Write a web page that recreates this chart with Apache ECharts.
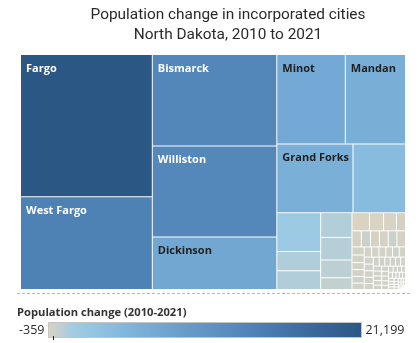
<!DOCTYPE html>
<html>
<head>
<meta charset="utf-8">
<script src="https://cdn.jsdelivr.net/npm/echarts@6/dist/echarts.min.js"></script>
<style>
  html, body { margin: 0; padding: 0; background: #fff; }
  #chart { width: 420px; height: 343px; }
</style>
</head>
<body>
<div id="chart"></div>
<script>
// Cities that carry a name label, with their population change 2010-2021
const labeledCities = ['Fargo', 'West Fargo', 'Bismarck', 'Williston', 'Dickinson', 'Minot', 'Mandan', 'Grand Forks'];
const labeledChange = [21199, 13800, 12860, 12810, 7390, 6920, 6080, 5920];
// Label ink per city: white on the darker tiles, near-black on the lighter ones
const labelTone = ['light', 'light', 'light', 'light', 'dark', 'dark', 'dark', 'dark'];

// Remaining incorporated cities (no label), population change 2010-2021
const otherChange = [
  4080, 1930, 945, 935, 876, 798, 627, 417,
  -359, -290, -265, -185,
  -170, 166, -163, -160, 158, -156,
  -112, -105, -97, -94, 92, -89, -85, -84, -80, -77, 76, -73, -72, -68,
  -66, -65, -61, -60, -57, -55, 54, -51, -50, -47, -46, -44, -43, -41,
  -40, -38, -37, -35, -33, -32, -30, -29, -27, -26, -24, -23, -22, -20,
  -19, -18, -17, -16, -15, -14, -13, -12, -11, -10, -9, -9, -8, -7,
  -6, -6, -5, -4, -4, -3, -3, -2, -2, -1, -1
];

// Sequential colour scale, evenly spaced stops from the minimum to the maximum change
const colorStops = [
  '#dbd3c1', '#a0cbe4', '#90c2e1', '#80b5dc', '#74aad4', '#6a9fcb', '#6095c4',
  '#588bbd', '#4d80b3', '#4475a8', '#3b6a9c', '#336190', '#2b5784'
];

const titleText = 'Population change in incorporated cities\nNorth Dakota, 2010 to 2021';
const legendTitle = 'Population change (2010-2021)';

const allChange = labeledChange.concat(otherChange);
const minChange = Math.min.apply(null, allChange);
const maxChange = Math.max.apply(null, allChange);
const fmt = v => v.toLocaleString('en-US');

const treeData = labeledCities.map((name, i) => ({
  name: name,
  value: [labeledChange[i], labeledChange[i]],
  label: { color: labelTone[i] === 'light' ? '#ffffff' : '#1f1f1f' }
})).concat(otherChange.map(v => ({
  name: '',
  value: [Math.abs(v), v],
  label: { show: false }
})));

// Colour bar geometry for the legend
const bar = { left: 48, top: 322, length: 314, thick: 16 };
const zeroX = bar.left + (0 - minChange) / (maxChange - minChange) * bar.length;

const chart = echarts.init(document.getElementById('chart'), null, { renderer: 'canvas' });
chart.setOption({
  animation: false,
  backgroundColor: '#ffffff',
  title: [{
    text: titleText,
    left: 223,
    top: 0,
    textAlign: 'center',
    textStyle: {
      fontFamily: 'Roboto',
      fontWeight: 'normal',
      fontSize: 15.4,
      lineHeight: 20,
      color: '#2a2a2a'
    }
  }, {
    text: legendTitle,
    left: 17,
    top: 307,
    padding: 0,
    textStyle: {
      fontFamily: 'Open Sans',
      fontWeight: 'bold',
      fontSize: 11.2,
      color: '#333333'
    }
  }],
  visualMap: {
    type: 'continuous',
    seriesIndex: [],
    orient: 'horizontal',
    min: minChange,
    max: maxChange,
    calculable: false,
    hoverLink: false,
    itemWidth: bar.thick,
    itemHeight: bar.length,
    left: 19,
    top: bar.top,
    padding: 0,
    text: [fmt(maxChange), fmt(minChange)],
    textGap: 3.5,
    textStyle: { fontFamily: 'Open Sans', fontSize: 12.5, color: '#2a2a2a' },
    inRange: { color: colorStops }
  },
  graphic: [{
    type: 'line',
    shape: { x1: 17, y1: 293.5, x2: 410, y2: 293.5 },
    style: { stroke: '#b4bccb', lineWidth: 1, lineDash: [3, 2] },
    silent: true
  }, {
    type: 'rect',
    shape: { x: bar.left + 0.5, y: bar.top + 0.5, width: bar.length - 1, height: bar.thick - 1 },
    style: { fill: 'none', stroke: '#c4c4c4', lineWidth: 1 },
    z: 100,
    silent: true
  }, {
    type: 'line',
    shape: { x1: Math.round(zeroX) + 0.5, y1: bar.top + bar.thick - 2, x2: Math.round(zeroX) + 0.5, y2: bar.top + bar.thick + 2 },
    style: { stroke: '#222222', lineWidth: 1 },
    z: 101,
    silent: true
  }],
  series: [{
    type: 'treemap',
    left: 21,
    top: 55,
    width: 384,
    height: 234,
    roam: false,
    nodeClick: false,
    silent: true,
    sort: 'desc',
    visibleMin: 0.5,
    breadcrumb: { show: false },
    upperLabel: { show: false },
    label: {
      show: true,
      position: 'insideTopLeft',
      formatter: '{b}',
      fontFamily: 'Open Sans',
      fontWeight: 'bold',
      fontSize: 11,
      padding: [8, 4, 0, 5],
      distance: 0,
      overflow: 'none'
    },
    levels: [{
      color: colorStops,
      colorMappingBy: 'value',
      visualDimension: 1,
      visualMin: minChange,
      visualMax: maxChange,
      itemStyle: { borderWidth: 0, gapWidth: 1, borderColor: '#ffffff' }
    }, {
      itemStyle: { borderWidth: 0, gapWidth: 0 }
    }],
    data: treeData
  }]
});
</script>
</body>
</html>
